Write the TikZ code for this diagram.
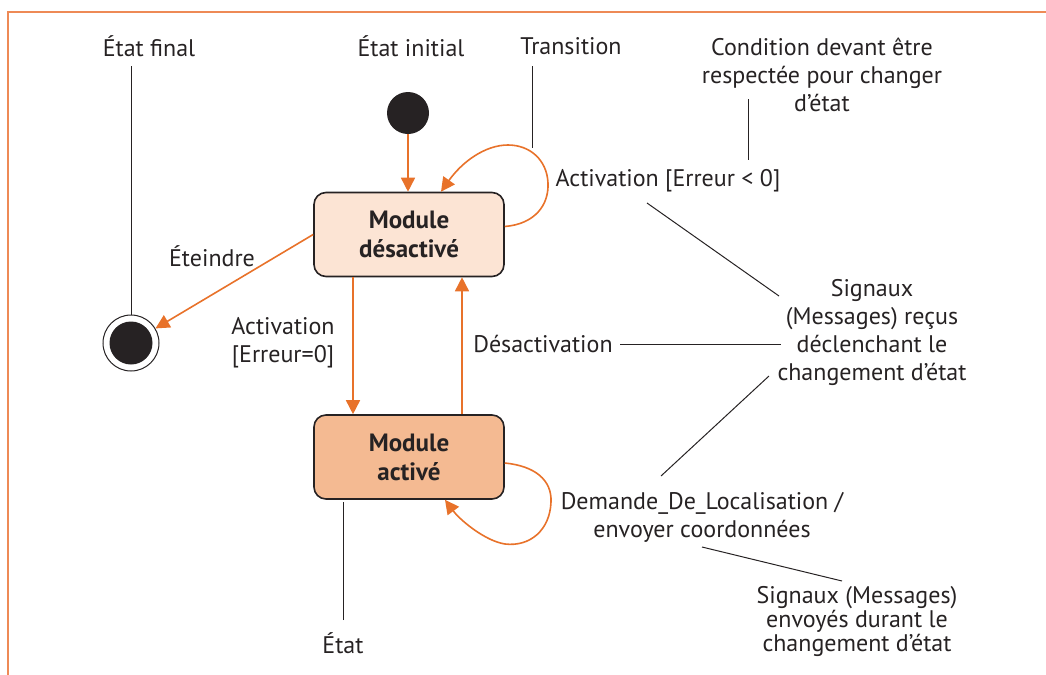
\documentclass[tikz,border=0pt]{standalone}
\usepackage{fontspec}
\setmainfont{PT Sans}
\usetikzlibrary{arrows.meta,positioning}
\definecolor{myorange}{RGB}{232,114,42}
\definecolor{myframe}{RGB}{238,138,86}
\definecolor{mypale}{RGB}{252,228,212}
\definecolor{mypeach}{RGB}{244,186,146}
\definecolor{myink}{RGB}{38,34,35}
\newcommand{\widthstate}{95pt}
\newcommand{\heightstate}{42pt}
\newcommand{\txtsize}{\fontsize{12}{14}\selectfont}
\tikzset{
    common/.style={text=myink, font=\txtsize, align=center, inner sep=0pt},
    note/.style={common},
    tightnote/.style={common, font=\fontsize{12}{12}\selectfont},
    state/.style={common, draw=myink, line width=0.8pt, rounded corners=6pt,
        minimum width=\widthstate, minimum height=\heightstate,
        font=\fontsize{12.5}{14.5}\selectfont\bfseries},
    dot/.style={circle, fill=myink, inner sep=0pt, minimum size=21pt},
    ring/.style={circle, draw=myink, line width=0.5pt, inner sep=0pt, minimum size=28pt},
    trans/.style={myorange, line width=0.8pt, -{Triangle[length=7pt, width=7pt]}},
    lien/.style={myink, line width=0.5pt},
}

\begin{document}
\begin{tikzpicture}[x=0.5pt, y=-0.5pt]
    \useasboundingbox (0,0) rectangle (1046,675);
    \draw[myframe, line width=0.7pt] (1046,12) -- (8,12) -- (8,675);

    % etats
    \node[dot] (init) at (408,113) {};
    \node[ring] (fin) at (131,343) {};
    \fill[myink] (fin.center) circle (10.75pt);
    \node[state, fill=mypale] (desact) at (409,234.5) {Module\\désactivé};
    \node[state, fill=mypeach] (act) at (409,457) {Module\\activé};

    % legendes
    \node[note] (lbl-final) at (149,46) {État final};
    \node[note] (lbl-init) at (411,46) {État initial};
    \node[note] (lbl-trans) at (571,46) {Transition};
    \node[note] (lbl-cond) at (822,75) {Condition devant être\\respectée pour changer\\d’état};
    \node[note] (lbl-garde) at (668,181) {Activation [Erreur < 0]};
    \node[note] (lbl-eteindre) at (212,256) {Éteindre};
    \node[note] (lbl-activation) at (283,343) {Activation\\{[Erreur=0]}};
    \node[note] (lbl-desactivation) at (543,344) {Désactivation};
    \node[note] (lbl-recus) at (872,332) {Signaux\\(Messages) reçus\\déclenchant le\\changement d’état};
    \node[note] (lbl-demande) at (702,517) {Demande\_De\_Localisation /\\envoyer coordonnées};
    \node[tightnote] (lbl-envoyes) at (857,621) {Signaux (Messages)\\envoyés durant le\\changement d’état};
    \node[note] (lbl-etat) at (343,643) {État};

    % transitions
    \draw[trans] (init) -- (init |- desact.north);
    \draw[trans] (desact.west) -- (fin);
    \draw[trans] ([xshift=-28pt]desact.south) -- ([xshift=-28pt]act.north);
    \draw[trans] ([xshift=26.5pt]act.north) -- ([xshift=26.5pt]desact.south);
    \draw[trans] ([yshift=4pt]desact.east)
        .. controls (535,224) and (549,205) .. (548,183)
        .. controls (547,160) and (530,145) .. (508,145)
        .. controls (485,145) and (462,162) .. ([xshift=16pt]desact.north);
    \draw[trans] ([yshift=-3pt]act.east)
        .. controls (535,466) and (552,480) .. (551,502)
        .. controls (550,530) and (530,547) .. (505,544)
        .. controls (485,541) and (460,520) .. ([xshift=18pt]act.south);

    % traits de rappel
    \draw[lien] (fin.north |- 0,66) -- (fin.north);
    \draw[lien] (532,66) -- (532,148);
    \draw[lien] (748,99) -- (748,160);
    \draw[lien] ([shift={(-21,22)}]lbl-garde.center) -- ([shift={(-93,-36)}]lbl-recus.center);
    \draw[lien] ([shift={(77,0)}]lbl-desactivation.center) -- ([shift={(-91,12)}]lbl-recus.center);
    \draw[lien] ([shift={(-41,-41)}]lbl-demande.center) -- ([shift={(-103,44)}]lbl-recus.center);
    \draw[lien] ([shift={(0,30)}]lbl-demande.center) -- ([shift={(-15,-40)}]lbl-envoyes.center);
    \draw[lien] (lbl-etat |- 0,620) -- (lbl-etat |- 0,502);
\end{tikzpicture}
\end{document}
